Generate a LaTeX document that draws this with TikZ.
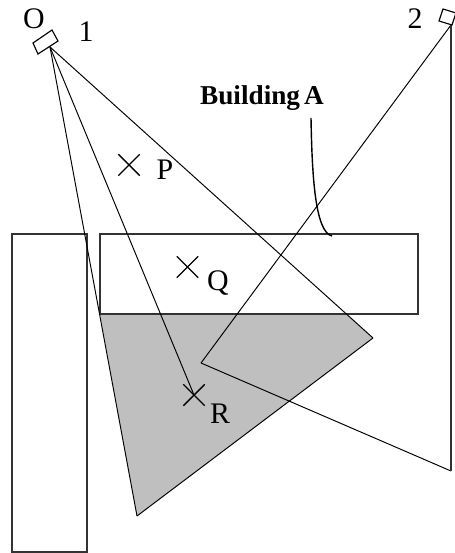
\documentclass[tikz,border=0pt]{standalone}
\usepackage{fontspec}
\setmainfont{Liberation Serif}
\usetikzlibrary{shapes.misc}

\begin{document}
\begin{tikzpicture}[x=0.02cm,y=-0.02cm]
  \tikzset{wall/.style={draw=black!80,line width=0.6pt}}
  \tikzset{sightline/.style={draw=black,line width=0.55pt}}
  \tikzset{camerabox/.style={draw=black,line width=0.65pt,fill=white}}
  \tikzset{spotmark/.style={cross out,draw=black,line width=0.8pt,inner sep=0pt,minimum size=0.4cm}}
  \tikzset{pointlabel/.style={font=\fontsize{17}{20}\selectfont,inner sep=0pt,text=black}}
  \useasboundingbox (0,0) rectangle (454,553);
  \coordinate (c1) at (50,47);
  \coordinate (c2) at (451,25);
  \coordinate (far1) at (137,516);
  \coordinate (far2) at (373,338);
  \coordinate (inner) at (201,363);
  \coordinate (floorr) at (451,471);
  \coordinate (edgel) at (100,314);
  \coordinate (edger) at (346,314);
  \coordinate (leadtop) at (311,118);
  \coordinate (leadend) at (332,236);
  % shaded region
  \fill[black!25] (edgel) -- (edger) -- (far2) -- (far1) -- cycle;
  % buildings
  \draw[wall] (12,234) rectangle (87,552);
  \draw[wall] (100,234) rectangle (418,314);
  % sight lines
  \node[spotmark] (markp) at (129,165) {};
  \node[spotmark] (markq) at (187.5,267) {};
  \node[spotmark] (markr) at (194,395) {};
  \draw[sightline] (c1) -- (far1);
  \draw[sightline] (c1) -- (far2);
  \draw[sightline] (c1) -- (markr.center);
  \draw[sightline] (far1) -- (far2);
  \draw[sightline] (c2) -- (inner);
  \draw[sightline] (inner) -- (floorr);
  \draw[wall] (c2) -- (floorr);
  % cameras
  \draw[camerabox] (33,43) -- (52,30) -- (58,41) -- (38,54) -- cycle;
  \draw[camerabox] (443,9) -- (456,13) -- (452,25) -- (439,21) -- cycle;
  % labels
  \node[pointlabel] (labelo) at (34,19) {O};
  \node[pointlabel] (label1) at (86,32) {1};
  \node[pointlabel] (label2) at (415,19) {2};
  \node[pointlabel] (labelp) at (165,170) {P};
  \node[pointlabel] (labelq) at (218,283) {Q};
  \node[pointlabel] (labelr) at (220,414) {R};
  \node[pointlabel,font=\fontsize{15.5}{18}\selectfont\bfseries] (labela) at (262,98) {Building\kern-0.1em\ A};
  \draw[line width=0.8pt] (leadtop) .. controls (312,175) and (315,232) .. (leadend);
\end{tikzpicture}
\end{document}
